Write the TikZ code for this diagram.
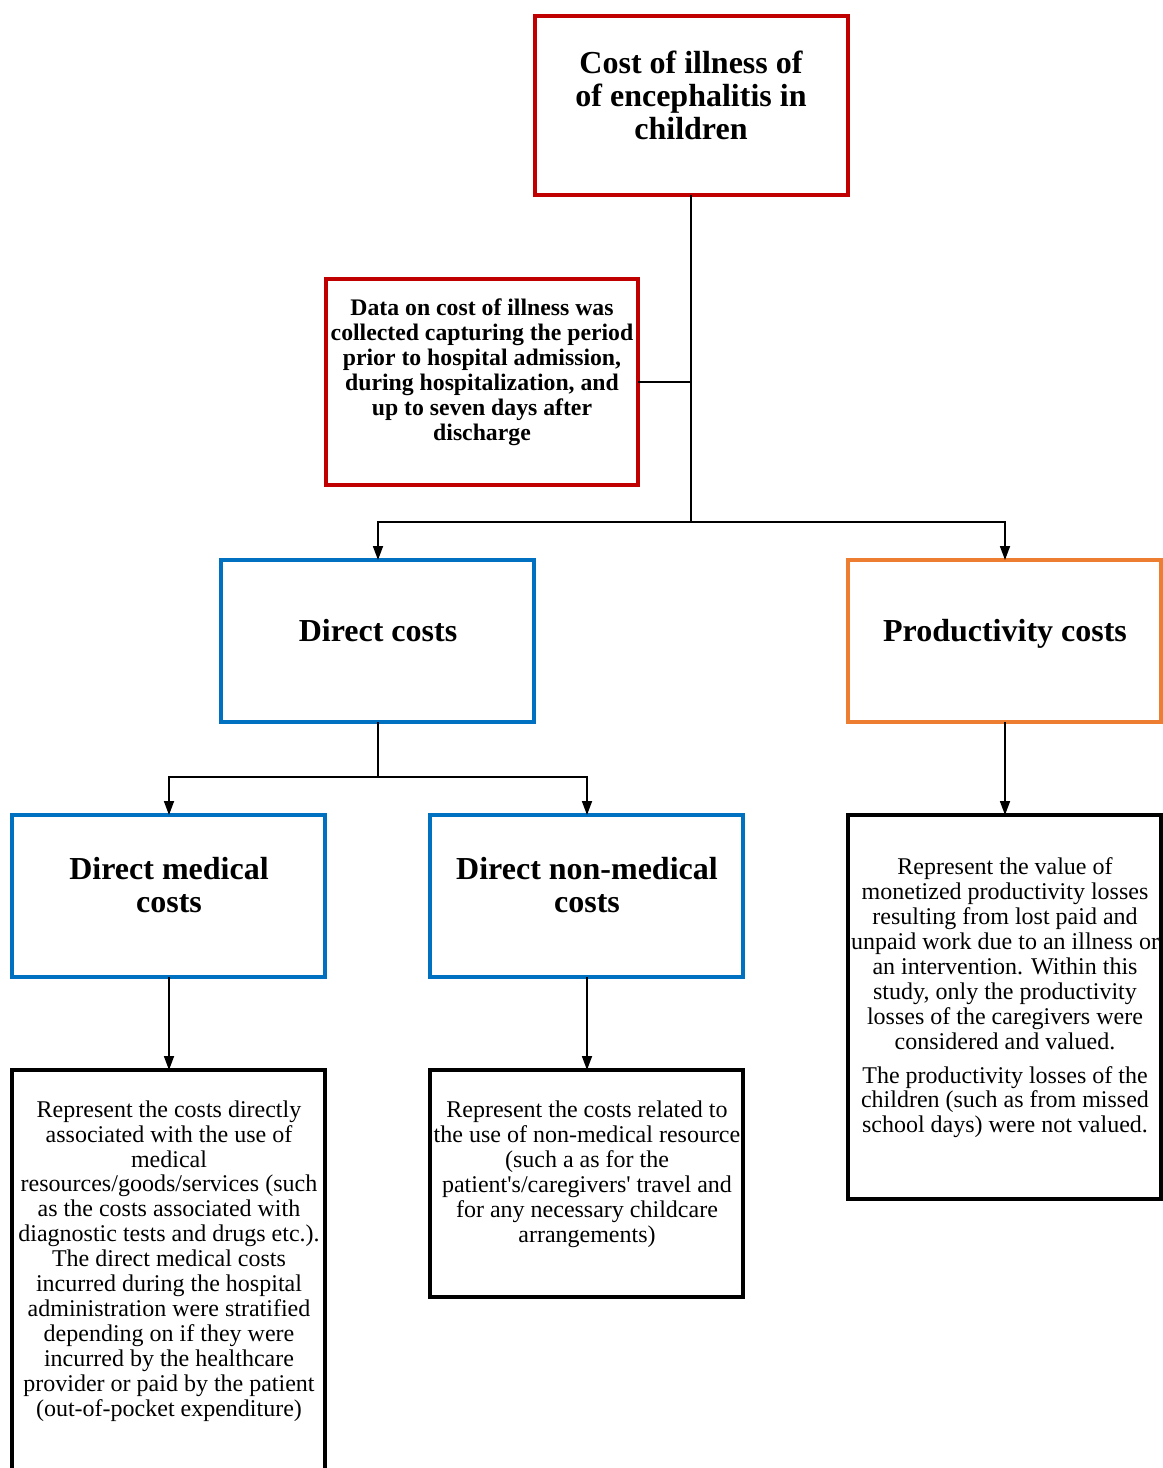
\documentclass[tikz,border=0pt]{standalone}
\usepackage{fontspec}
\setmainfont{Liberation Serif}
\usetikzlibrary{arrows.meta}
\definecolor{cred}{HTML}{C00000}
\definecolor{cblue}{HTML}{0070C0}
\definecolor{corange}{HTML}{ED7D31}
\newcommand\sqt{\XeTeXglyph\XeTeXcharglyph"0027\relax}
\begin{document}
\begin{tikzpicture}[x=0.75pt,y=-0.75pt,
  boxst/.style={draw,line width=2.6pt},
  conn/.style={line width=1.3pt},
  arr/.style={conn,-{Triangle[length=10.5pt,width=7.5pt]}},
  headtxt/.style={align=center,inner sep=0pt,font=\fontsize{24}{24.75}\selectfont\bfseries},
  datatxt/.style={align=center,inner sep=0pt,font=\fontsize{17.8}{18.75}\selectfont\bfseries},
  bodytxt/.style={align=center,inner sep=0pt,font=\fontsize{18}{18.7}\selectfont}]
\useasboundingbox (0,0) rectangle (1163,1468);
% boxes
\draw[boxst,cred] (535,16) rectangle (848,195);
\coordinate (topb) at (691,195);
\draw[boxst,cred] (326,279) rectangle (638,485);
\coordinate (datar) at (638,382);
\draw[boxst,cblue] (221,560) rectangle (534,722);
\draw[boxst,corange] (848,560) rectangle (1161,722);
\draw[boxst,cblue] (12,815) rectangle (325,977);
\draw[boxst,cblue] (430,815) rectangle (743,977);
\draw[boxst,black] (12,1070) rectangle (325,1480);
\draw[boxst,black] (430,1070) rectangle (743,1297);
\draw[boxst,black] (848,815) rectangle (1161,1199);
% texts
\node[headtxt] (t1) at (691,95) {Cost of illness of\\of encephalitis in\\children};
\node[datatxt] (t2) at (482,372) {Data on cost of illness was\\collected capturing the period\\prior to hospital admission,\\during hospitalization, and\\up to seven days after\\discharge};
\node[headtxt] (t3) at (378,631) {Direct costs};
\node[headtxt] (t4) at (1005,634) {Productivity costs};
\node[headtxt] (t5) at (169,885) {Direct medical\\costs};
\node[headtxt] (t6) at (587,885) {Direct non-medical\\costs};
\node[bodytxt] (t7) at (169,1261) {Represent the costs directly\\associated with the use of\\medical\\resources/goods/services (such\\as the costs associated with\\diagnostic tests and drugs etc.).\\The direct medical costs\\incurred during the hospital\\administration were stratified\\depending on if they were\\incurred by the healthcare\\provider or paid by the patient\\(out-of-pocket expenditure)};
\node[bodytxt] (t8) at (587,1174) {Represent the costs related to\\the use of non-medical resource\\(such a as for the\\patient\sqt s/caregivers\sqt{} travel and\\for any necessary childcare\\arrangements)};
\node[bodytxt] (t9) at (1005,998) {Represent the value of\\monetized productivity losses\\resulting from lost paid and\\unpaid work due to an illness or\\an intervention. Within this\\study, only the productivity\\losses of the caregivers were\\considered and valued.\\[6.5pt]The productivity losses of the\\children (such as from missed\\school days) were not valued.};
% anchor coordinates
\coordinate (j1) at (691,522);
\coordinate (j1d) at (691,382);
\coordinate (dctop) at (378,560);
\coordinate (pctop) at (1005,560);
\coordinate (dcbot) at (378,722);
\coordinate (j2) at (378,777);
\coordinate (dmtop) at (169,815);
\coordinate (dntop) at (587,815);
\coordinate (dmbot) at (169,977);
\coordinate (dnbot) at (587,977);
\coordinate (dmdtop) at (169,1070);
\coordinate (dndtop) at (587,1070);
\coordinate (pcbot) at (1005,722);
\coordinate (pcdtop) at (1005,815);
% connectors
\draw[conn] (topb) -- (j1);
\draw[conn] (datar) -- (j1d);
\draw[arr] (j1) -| (dctop);
\draw[arr] (j1) -| (pctop);
\draw[conn] (dcbot) -- (j2);
\draw[arr] (j2) -| (dmtop);
\draw[arr] (j2) -| (dntop);
\draw[arr] (dmbot) -- (dmdtop);
\draw[arr] (dnbot) -- (dndtop);
\draw[arr] (pcbot) -- (pcdtop);
\end{tikzpicture}
\end{document}
